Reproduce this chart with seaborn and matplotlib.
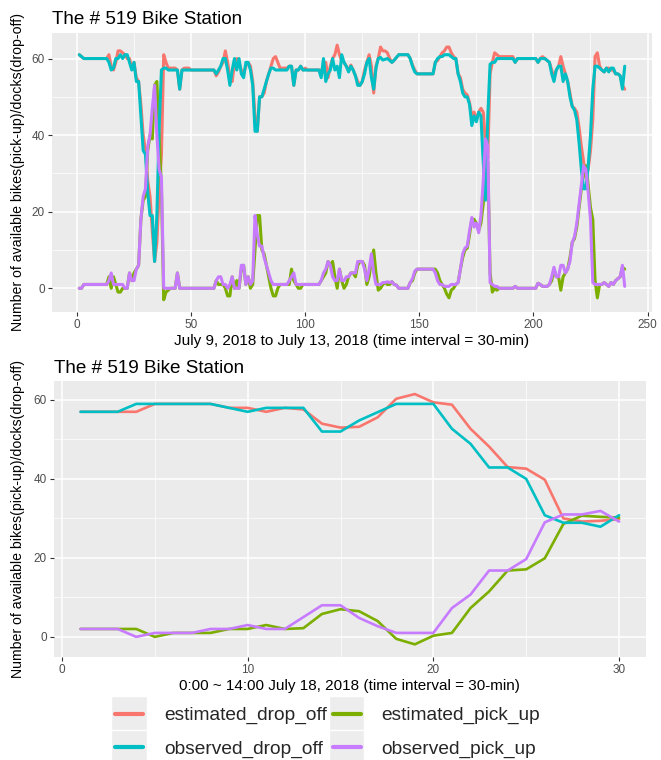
import matplotlib
matplotlib.use("Agg")
import matplotlib.pyplot as plt
from matplotlib.lines import Line2D
from matplotlib.patches import Rectangle
from matplotlib.legend_handler import HandlerLine2D
from matplotlib.ticker import MultipleLocator
import numpy as np
import pandas as pd
import seaborn as sns

# ---- data: top panel, July 9-13 2018, 240 half-hour steps ----
obs_drop_week = [
    61, 60.5, 60, 60, 60, 60, 60, 60, 60, 60, 60, 60, 60, 59, 57, 57.5, 60, 60, 61, 60,
    61, 61, 59, 57, 59, 54, 54, 45, 36, 35, 25, 19, 19, 7, 19, 42, 57, 57.5, 57.5, 57,
    57, 57, 57, 57, 52, 57, 57, 57, 57, 57, 57, 57, 57, 57, 57, 57, 57, 57, 57, 57,
    56, 57, 58, 60, 60, 57, 53, 57, 60, 57, 60, 56, 55, 59, 59, 57, 53, 41, 41, 50,
    50, 52, 54, 56, 57.5, 57.5, 57, 57, 57, 57, 57, 57, 58, 58, 53, 57, 57, 58, 57, 57,
    57, 57, 57, 57, 57, 57, 55, 60, 54, 56, 57, 60, 57, 58, 55, 61, 59, 58, 56.5, 58,
    57, 55.5, 53, 53, 54, 56, 59, 60, 55, 52, 57.5, 60, 60.3, 59.6, 59.8, 60, 59.5, 59, 59.6, 60.3,
    61, 61, 61, 61, 61, 60, 58, 56.5, 56, 56, 56, 56, 56, 56, 56, 56, 59, 60, 60.5, 60.5,
    61, 61, 61, 60.5, 60, 60, 56, 54, 51, 50, 50, 48, 42.5, 45, 43.5, 46, 45, 33, 23, 45,
    58.5, 59, 59, 60, 60, 60, 60, 60, 60, 60, 60, 59, 60, 60, 60, 60, 60, 60, 60, 60,
    60, 59, 60, 60, 60, 59.5, 59, 56, 54, 57, 58, 58, 54, 56, 54, 50, 47.5, 46.5, 44, 38,
    31, 26, 26, 32, 40, 52, 58, 58, 57.5, 57, 56.5, 57.5, 56.5, 57.5, 57.5, 56, 56, 55.5, 52, 58,
]
est_drop_week = [
    61, 60.5, 60, 60, 60, 60, 60, 60, 60, 60, 60, 60, 60, 61, 58, 57, 59, 62, 62, 61.5,
    61, 60, 60, 57.5, 59, 55, 54, 48, 40, 36, 28, 24, 15, 7, 12, 25, 35, 61, 59, 57.5,
    57.5, 57.5, 57.5, 57, 52, 57, 57.5, 57.5, 57.5, 57, 57, 57, 57, 57, 57, 57, 57, 57, 57, 57,
    55.5, 56.5, 58, 59, 62, 59, 55, 54, 59, 60, 59, 57, 56, 58, 59, 58, 54, 45, 41, 50,
    50, 51, 54, 56, 58, 60, 60.5, 59, 57.5, 57.5, 57.5, 57.5, 58, 58, 53, 57, 57, 58, 57, 57.5,
    57, 57, 57, 57, 57, 57, 57, 57, 59, 55, 58, 60, 61, 63.5, 61, 59.5, 59, 58, 57, 58.3,
    57, 55.5, 54, 53, 54, 57, 59, 61, 58, 51, 58, 60, 63, 62, 62, 61.5, 60, 59, 59.6, 60.3,
    61, 61, 61, 61, 61, 60, 58.3, 57, 56, 56, 56, 56, 56, 56, 56, 56, 59, 59.5, 60.5, 61.5,
    62, 63, 63, 61.5, 60.5, 60, 56, 55, 52, 51, 50.5, 48.5, 45, 46, 44, 46, 47, 46, 38, 34,
    56, 59, 61.5, 61, 60.5, 60.5, 60.5, 60.5, 60.5, 60.5, 60.5, 59, 60, 60, 60, 60, 60, 60, 60, 60,
    60, 59, 60, 60.5, 60, 59.5, 59, 57, 55, 57, 58, 60.5, 58, 56, 54, 51, 47.5, 47, 46, 42,
    37, 33, 29, 31, 36, 44, 60.5, 61.5, 58, 57, 56.5, 57.5, 57.5, 57, 57, 56, 56, 55.5, 53, 52,
]
est_pick_week = [
    0, 0, 1, 1, 1, 1, 1, 1, 1, 1, 1, 1, 1, 3, 0, 3, 1, -1, -1, 0,
    0, 0, 4, 2, 4, 5, 6, 18, 23, 24, 36, 40, 39, 53, 54, 40, 26, -3, -1, -0.5,
    0, 0, 0, 4, 0, 0, 0, 0, 0, 0, 0, 0, 0, 0, 0, 0, 0, 0, 0, 0,
    2, 1, 1, 1, 0, -2, -2, 3, 0, 2, 0, 5, 6, 1, 3, 0, 1, 10, 19, 19,
    10, 9, 6, 3, 0, -2, -2, 0, 1, 1, 1, 1, 1, 5, 2, 1, 0, 0, 1, 1,
    1, 1, 1, 1, 1, 1, 2, 3, 4, 7, 6, 7, 3, 0, 5, 2, 0, 1, 3, 4,
    4, 3, 6, 7, 7, 6, 1, 3, 7, 10, 4, -0.5, 0, 1, 1.5, 1, 1, 1.7, 1, 0.8,
    0, 0, 0, 0, 0, 1.5, 2, 4, 5, 5, 5, 5, 5, 5, 5, 5, 5, 4, 2, 1,
    0, -1.5, -2.5, -0.5, 0, 1, 1.5, 5, 8, 10, 10.5, 14, 18, 18, 17, 15, 17, 22, 30, 33,
    4, -1, 0, -0.5, 0, 0, 0, 0, 0, 0, 0, 0.5, 0, 0, 0, 0, 0, 0, 0, 0,
    0, 1.3, 1, 0.5, 0.5, 0.5, 1, 2, 5, 3, 3, -0.5, 3, 4, 5, 8, 12, 13, 16, 21,
    26, 30, 32, 27, 21, 18, 2, -2.5, 1, 1, 1.5, 1, 0.5, 1.5, 1, 2, 2.5, 3, 5.5, 5,
]
obs_pick_week = [
    0, 0, 1, 1, 1, 1, 1, 1, 1, 1, 1, 1, 1, 2, 4, 1, 1, 1, 1, 1,
    0, 0, 4, 2, 2, 5, 6, 18, 24, 26, 37, 40, 47, 53, 40, 31, 29, 0, 0, 0,
    0, 0, 0, 4, 0, 0, 0, 0, 0, 0, 0, 0, 0, 0, 0, 0, 0, 0, 0, 0,
    2, 3, 3, 1, 1, 0, 1, 3, 0, 0, 0, 6, 6, 1, 3, 1, 2, 19, 14, 11,
    11, 8, 6, 4, 2, 1, 1, 1, 1, 1, 1, 1, 2, 3, 4, 1, 1, 1, 1, 1,
    1, 1, 1, 1, 1, 1, 2, 4, 5, 7, 6, 3, 2, 2, 5, 2, 2, 3, 3, 4,
    4, 4, 7, 7, 7, 5, 2, 5, 9, 4, 1, 1, 1, 1.5, 1.5, 1.7, 1.5, 1.7, 1, 0.8,
    0, 0, 0, 0, 0, 1.5, 2.5, 4.5, 5, 5, 5, 5, 5, 5, 5, 5, 4, 2, 1, 1,
    0.5, 0.5, 0.5, 1, 1, 1, 1.5, 5, 9, 10.5, 11, 15, 18.5, 16, 17, 14.5, 19, 28, 39, 37,
    1.5, 1, 0.5, 0.5, 0, 0, 0, 0, 0, 0, 0, 0.5, 0, 0, 0, 0, 0, 0, 0, 0,
    0, 1.3, 1, 0.5, 0.5, 0.5, 1, 3, 5.5, 3, 3, 6, 6, 4, 5, 7, 12, 13.5, 17, 22,
    27, 32, 31, 25, 18, 1.5, 1, 1, 1, 1, 1.5, 1, 0.5, 1.5, 1, 2, 2.5, 3, 6, 0.5,
]

# ---- data: bottom panel, 0:00-14:00 July 18 2018, 30 half-hour steps ----
est_drop_day = [57, 57, 57, 57, 59, 59, 59, 59, 58, 58, 57, 58, 57.6, 54, 53,
                53.2, 55.6, 60.3, 61.5, 59.4, 58.8, 52.7, 48.2, 43, 42.6, 39.8, 30, 29.2, 29.4, 29.8]
obs_drop_day = [57, 57, 57, 59, 59, 59, 59, 59, 58, 57, 58, 58, 58, 52, 52,
                54.8, 56.9, 59, 59, 59, 52.7, 48.9, 42.9, 42.9, 40, 30.8, 28.9, 28.9, 27.9, 30.8]
est_pick_day = [2, 2, 2, 2, 0, 1, 1, 1, 2, 2, 3, 2, 2.2, 5.8, 7,
                6.5, 4, -0.5, -1.9, 0.3, 1, 7.3, 11.5, 16.8, 17.1, 19.9, 28.6, 30.7, 30.4, 30.2]
obs_pick_day = [2, 2, 2, 0, 1, 1, 1, 2, 2, 3, 2, 2, 5, 8, 8,
                4.8, 2.7, 1, 1, 1, 7.3, 10.7, 16.8, 16.8, 19.7, 29, 31, 31, 31.9, 29.2]

series_names = ["estimated_drop_off", "estimated_pick_up", "observed_drop_off", "observed_pick_up"]
palette = {"estimated_drop_off": "#F8766D", "estimated_pick_up": "#7CAE00",
           "observed_drop_off": "#00BFC4", "observed_pick_up": "#C77CFF"}

title = "The # 519 Bike Station"
ylab = "Number of available bikes(pick-up)/docks(drop-off)"
xlab_week = "July 9, 2018 to July 13, 2018 (time interval = 30-min)"
xlab_day = "0:00 ~ 14:00 July 18, 2018 (time interval = 30-min)"


def long_frame(cols):
    parts = []
    for name, vals in zip(series_names, cols):
        parts.append(pd.DataFrame({"t": np.arange(1, len(vals) + 1), "value": vals, "series": name}))
    return pd.concat(parts, ignore_index=True)


df_week = long_frame([est_drop_week, est_pick_week, obs_drop_week, obs_pick_week])
df_day = long_frame([est_drop_day, est_pick_day, obs_drop_day, obs_pick_day])

sns.set_theme(style="darkgrid", rc={
    "axes.facecolor": "#EBEBEB",
    "grid.color": "white",
    "axes.edgecolor": "#EBEBEB",
    "xtick.bottom": True,
    "ytick.left": True,
    "xtick.major.size": 3,
    "ytick.major.size": 3,
    "xtick.color": "#333333",
    "ytick.color": "#333333",
})
plt.rcParams["font.family"] = ["Liberation Sans", "DejaVu Sans"]

W, H = 661, 760
fig = plt.figure(figsize=(W / 100, H / 100), dpi=100)


def px_axes(left, top, right, bottom):
    return fig.add_axes([left / W, 1 - bottom / H, (right - left) / W, (bottom - top) / H])


ax1 = px_axes(52, 32.5, 652, 312.4)
ax2 = px_axes(53.6, 381.4, 646, 657)

sns.lineplot(data=df_week, x="t", y="value", hue="series", hue_order=series_names,
             palette=palette, estimator=None, linewidth=2.2, legend=False, ax=ax1)
sns.lineplot(data=df_day, x="t", y="value", hue="series", hue_order=series_names,
             palette=palette, estimator=None, linewidth=1.9, legend=False, ax=ax2)

ax1.set_xlim(-10.95, 251.95)
ax1.set_ylim(-6.3, 66.8)
ax1.xaxis.set_major_locator(MultipleLocator(50))
ax1.xaxis.set_minor_locator(MultipleLocator(25))
ax2.set_xlim(-0.45, 31.45)
ax2.set_ylim(-5.1, 64.7)
ax2.xaxis.set_major_locator(MultipleLocator(10))
ax2.xaxis.set_minor_locator(MultipleLocator(5))

for ax, xl in [(ax1, xlab_week), (ax2, xlab_day)]:
    ax.yaxis.set_major_locator(MultipleLocator(20))
    ax.yaxis.set_minor_locator(MultipleLocator(10))
    ax.grid(which="major", color="white", linewidth=1.1)
    ax.grid(which="minor", color="white", linewidth=0.5)
    ax.tick_params(which="major", labelsize=8.5, labelcolor="#4D4D4D", width=0.8, pad=2)
    ax.tick_params(which="minor", length=0)
    for s in ax.spines.values():
        s.set_visible(False)
    ax.set_title(title, loc="left", fontsize=13.6, pad=6, color="black")
    ax.set_xlabel(xl, fontsize=11, labelpad=2, color="black")
    ax.set_ylabel(ylab, fontsize=10.2, color="black")

ax1.yaxis.set_label_coords((25 - 52) / 600, 0.5)
ax2.yaxis.set_label_coords((25 - 53.6) / 592.4, 0.5)


class KeyHandler(HandlerLine2D):
    # grey ggplot-style key box behind each legend line
    def create_artists(self, legend, orig_handle, xdescent, ydescent, width, height, fontsize, trans):
        arts = super().create_artists(legend, orig_handle, xdescent, ydescent, width, height, fontsize, trans)
        side = 25.5
        cx = -xdescent + width / 2
        cy = -ydescent + height / 2
        bg = Rectangle((cx - side / 2, cy - side / 2), side, side, facecolor="#EDEDED",
                       edgecolor="white", linewidth=1, transform=trans, zorder=0)
        return [bg] + arts


leg_order = ["estimated_drop_off", "observed_drop_off", "estimated_pick_up", "observed_pick_up"]
handles = [Line2D([], [], color=palette[n], linewidth=3) for n in leg_order]
fig.legend(handles, leg_order, ncol=2, loc="center", bbox_to_anchor=(0.496, 0.036),
           frameon=False, fontsize=13.8, handlelength=1.45, handletextpad=1.1,
           columnspacing=0.3, labelspacing=0.85,
           handler_map={Line2D: KeyHandler()})

fig.savefig("out.png", dpi=100)
